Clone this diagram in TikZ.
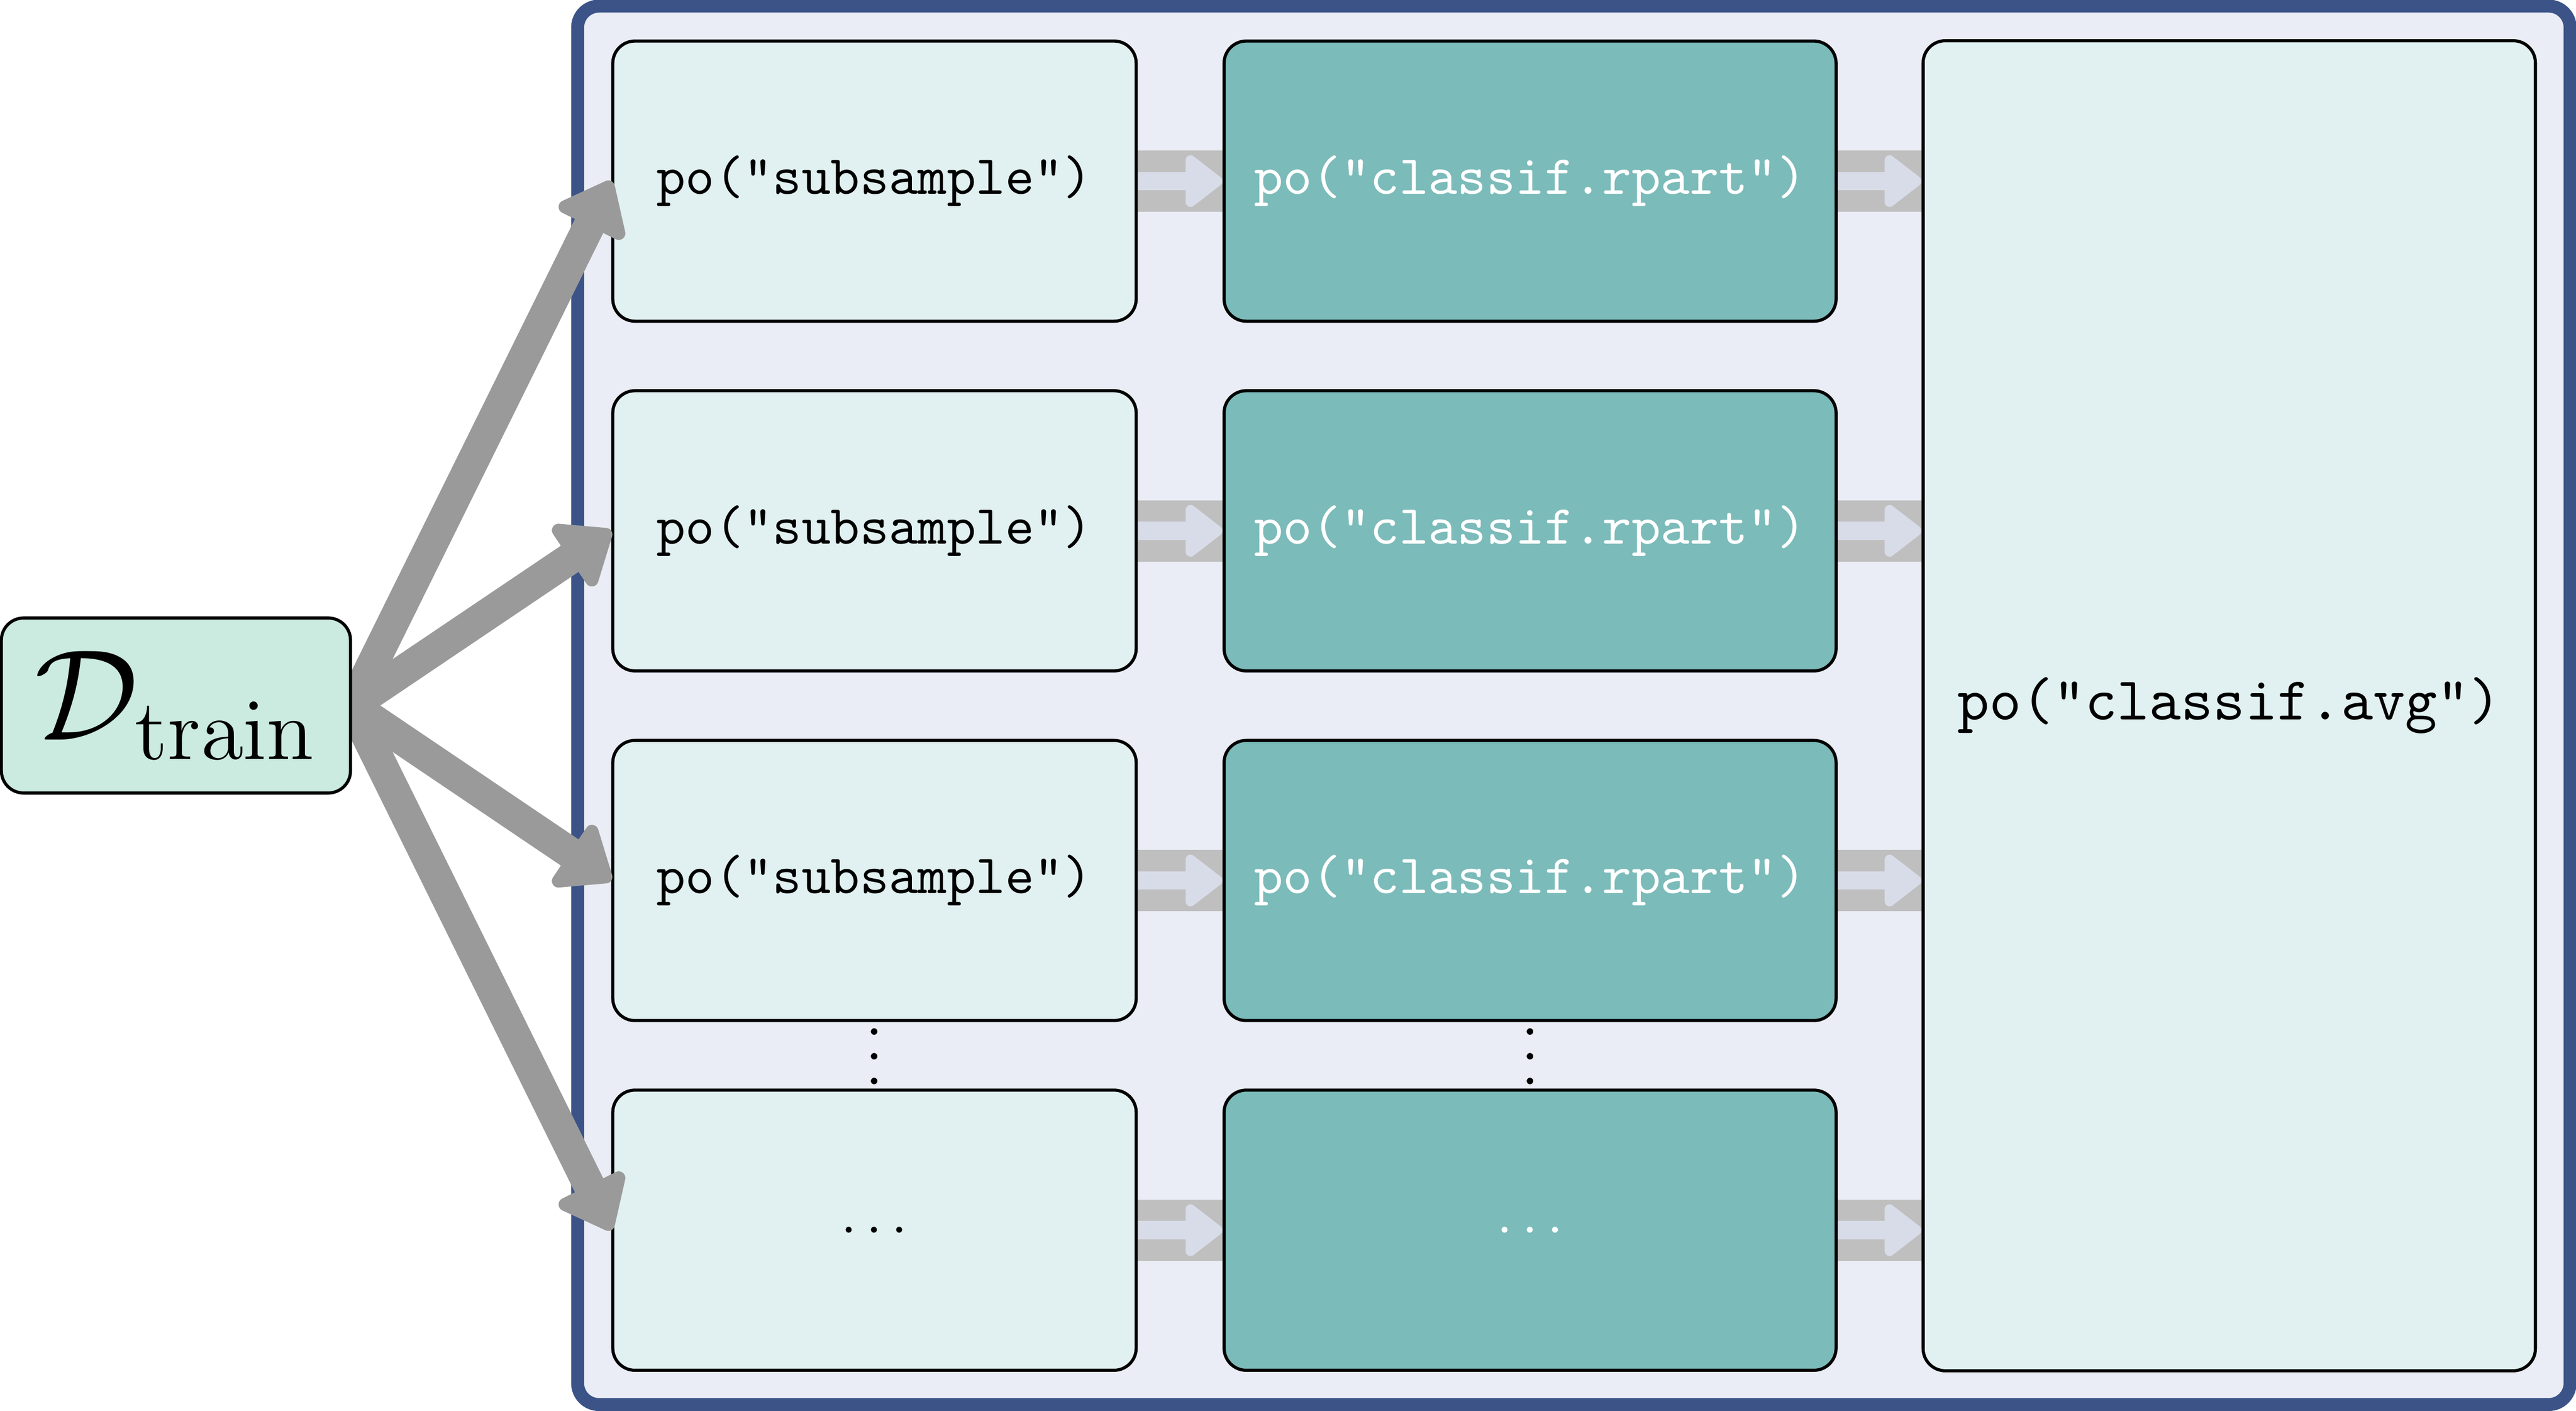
\RequirePackage{fix-cm}
\documentclass[tikz,border=0pt]{standalone}
\usetikzlibrary{arrows.meta}
\DeclareMathSizes{22.4}{22.4}{15}{11}
\definecolor{bluebd}{HTML}{3B5387}
\definecolor{outerfill}{HTML}{EAEDF5}
\definecolor{subfill}{HTML}{E1F0F0}
\definecolor{dfill}{HTML}{CBEAE0}
\definecolor{lrnfill}{HTML}{7BBBB9}
\definecolor{feedgray}{HTML}{9A9A9A}
\definecolor{bandgray}{HTML}{BFBFBF}
\definecolor{flowc}{HTML}{D8DCE8}
\pgfdeclarelayer{bg}
\pgfdeclarelayer{mid}
\pgfdeclarelayer{feedlayer}
\pgfdeclarelayer{front}
\pgfsetlayers{bg,mid,main,feedlayer,front}
\begin{document}
\begin{tikzpicture}[x=0.01cm,y=-0.01cm,
  box/.style={draw=black, line width=0.019cm, rounded corners=0.135cm, inner sep=0pt, align=center},
  subbox/.style={box, fill=subfill, minimum width=3.184cm, minimum height=1.704cm, font=\fontsize{9.58pt}{11pt}\selectfont\ttfamily},
  lrnbox/.style={box, fill=lrnfill, text=white, minimum width=3.723cm, minimum height=1.704cm, font=\fontsize{9.58pt}{11pt}\selectfont\ttfamily},
  avgbox/.style={box, fill=subfill, minimum width=3.725cm, minimum height=8.089cm, font=\fontsize{10.55pt}{12pt}\selectfont\ttfamily},
  dbox/.style={box, fill=dfill, minimum width=2.124cm, minimum height=1.064cm, font=\fontsize{22.4pt}{26pt}\selectfont},
  dotsnode/.style={inner sep=0pt, align=center, font=\fontsize{10.7pt}{4.28pt}\selectfont},
  feed/.style={draw=feedgray, line width=0.192cm, -{Triangle[round, length=0.33cm, width=0.51cm, line width=0.08cm]}},
  band/.style={draw=bandgray, line width=0.373cm},
  flow/.style={draw=flowc, line width=0.111cm, -{Triangle[round, length=0.245cm, width=0.36cm, line width=0.06cm]}}
]
\useasboundingbox (0,0) rectangle (1568,858.4);
\begin{pgfonlayer}{bg}
\node[draw=bluebd, line width=0.079cm, fill=outerfill, rounded corners=0.13cm, minimum width=12.121cm, minimum height=8.505cm, inner sep=0pt] (outer) at (958,429.2) {};
\end{pgfonlayer}

\begin{pgfonlayer}{front}
\node[dbox] (D) at (107.1,429.3) {$\mathcal{D}_{\mathrm{train}}$};
\end{pgfonlayer}

\node[subbox] (s1) at (532.3,110.2) {po("subsample")};
\node[subbox] (s2) at (532.3,323.0) {po("subsample")};
\node[subbox] (s3) at (532.3,535.8) {po("subsample")};
\node[subbox] (s4) at (532.3,748.6) {$\ldots$};

\node[lrnbox] (l1) at (931.35,110.2) {po("classif.rpart")};
\node[lrnbox] (l2) at (931.35,323.0) {po("classif.rpart")};
\node[lrnbox] (l3) at (931.35,535.8) {po("classif.rpart")};
\node[lrnbox] (l4) at (931.35,748.6) {$\ldots$};

\node[avgbox] (avg) at (1356.95,429.45) {po("classif.avg")};

\node[dotsnode] (vd1) at (532.3,642.8) {.\\.\\.};
\node[dotsnode] (vd2) at (931.35,642.8) {.\\.\\.};

\begin{pgfonlayer}{mid}
\foreach \i in {1,...,4} {
  \draw[band] (s\i.east) -- (l\i.west);
  \draw[band] (l\i.east) -- (l\i.east -| avg.west);
  \draw[flow] (s\i.east) -- (l\i.west);
  \draw[flow] (l\i.east) -- (l\i.east -| avg.west);
}
\end{pgfonlayer}
\begin{pgfonlayer}{feedlayer}
\foreach \i in {1,...,4} {
  \draw[feed] (D.east) -- (s\i.west);
}
\end{pgfonlayer}
\end{tikzpicture}
\end{document}
